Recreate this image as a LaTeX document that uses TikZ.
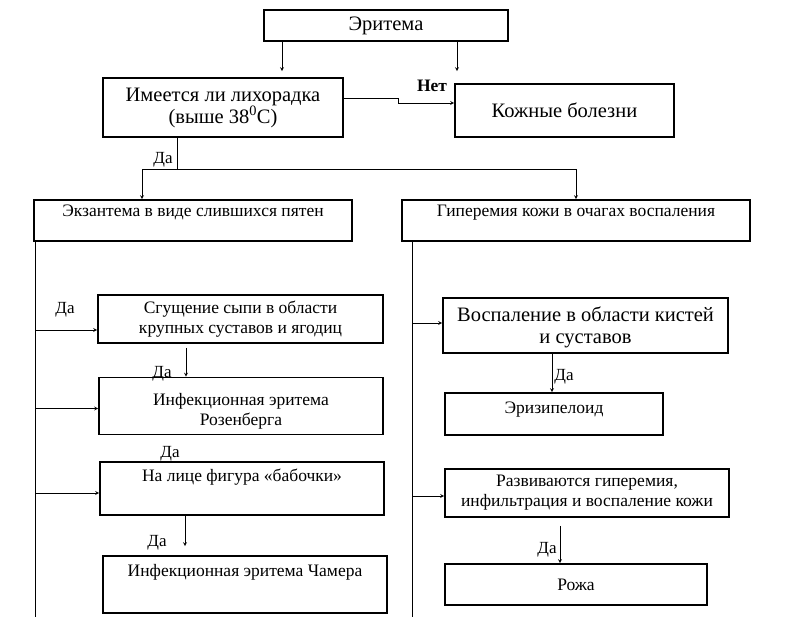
\documentclass[tikz,border=0pt]{standalone}
\usepackage{fontspec}
\setmainfont{Liberation Serif}
\usetikzlibrary{arrows.meta}

\tikzset{
  box/.style={draw,line width=1.6pt,inner sep=0pt,align=center,font=\fontsize{17.5}{20}\selectfont},
  bigbox/.style={box,font=\fontsize{20.5}{22}\selectfont},
  yes/.style={inner sep=0pt,font=\fontsize{17}{19}\selectfont}
}

\begin{document}
\begin{tikzpicture}[>=stealth,x=1pt,y=-1pt,line width=0.8pt]
\useasboundingbox (0,0) rectangle (809,617);
% boxes
\node[bigbox,minimum width=244pt,minimum height=31pt] (eritema) at (386,25.5) {Эритема};
\node[bigbox,minimum width=240pt,minimum height=59pt] (fever) at (223,107.5) {Имеется ли лихорадка\\(выше 38\textsuperscript{0}С)};
\node[bigbox,minimum width=219pt,minimum height=53pt] (skin) at (564.5,110.5) {Кожные болезни};
\node[box,minimum width=318pt,minimum height=41pt,text depth=19pt] (exan) at (193,220.5) {Экзантема в виде слившихся пятен};
\node[box,minimum width=348pt,minimum height=41pt,text depth=19pt] (hyper) at (576,220.5) {Гиперемия кожи в очагах воспаления};
\node[box,minimum width=285pt,minimum height=48pt] (thick) at (240.5,319) {Сгущение сыпи в области\\крупных суставов и ягодиц};
\node[box,minimum width=284pt,minimum height=57pt,text height=42pt] (rosen) at (241,406) {Инфекционная эритема\\Розенберга};
\node[box,minimum width=284pt,minimum height=53pt,text depth=27pt] (butter) at (242,488.5) {На лице фигура «бабочки»};
\node[box,minimum width=284pt,minimum height=57pt,text depth=29pt] (chamer) at (245,584.5) {Инфекционная эритема Чамера};
\node[bigbox,minimum width=285pt,minimum height=55pt,text depth=0pt] (hands) at (585.5,325.5) {Воспаление в области кистей\\и суставов};
\node[box,minimum width=218pt,minimum height=42pt,text depth=12pt] (erysip) at (554,414) {Эризипелоид};
\node[box,minimum width=284pt,minimum height=48pt] (develop) at (587,493) {Развиваются гиперемия,\\инфильтрация и воспаление кожи};
\node[box,minimum width=262pt,minimum height=41pt] (rozha) at (576,584.5) {Рожа};
\draw[white,line width=2pt] ([xshift=-60pt]rozha.north) -- (rozha.north);
\draw ([xshift=-60pt]rozha.north) -- (rozha.north);

% labels
\node[yes,font=\fontsize{17.5}{19}\selectfont\bfseries] (no) at (432,86) {Нет};
\node[yes] (yes0) at (163,160) {Да};
\node[yes] (yes1) at (65,310) {Да};
\node[yes] (yes2) at (162,374) {Да};
\node[yes] (yes3) at (170,454) {Да};
\node[yes] (yes4) at (157,543) {Да};
\node[yes] (yes5) at (564,377) {Да};
\node[yes] (yes6) at (547,550) {Да};

% connectors
\path ([xshift=-104pt]eritema.south) coordinate (e1)
      ([xshift=71pt]eritema.south) coordinate (e2);
\draw[->,shorten >=6pt] (e1) -- (e1 |- fever.north);
\draw[->,shorten >=12pt] (e2) -- (e2 |- skin.north);
\draw[->] ([yshift=9.5pt]fever.east) -- ++(55,0) |- ([yshift=7.5pt]skin.west);

\coordinate (split) at (177,169);
\draw (split |- fever.south) -- (split);
\draw[->] (split) -| ([xshift=-51pt]exan.north);
\draw[->] (split) -| (hyper.north);

% left trunk
\coordinate (lend) at (35,617);
\draw (lend |- exan.south) -- (lend);
\path ([yshift=-11pt]thick.west) coordinate (inA)
      ([yshift=-2.5pt]rosen.west) coordinate (inB)
      ([yshift=-4.5pt]butter.west) coordinate (inC);
\foreach \p in {inA,inB,inC}
  \draw[->] (\p -| lend) -- (\p);
\path ([xshift=-54.5pt,yshift=-4pt]thick.south) coordinate (d1)
      ([xshift=-57pt]butter.south) coordinate (d2);
\draw[->] (d1) -- (d1 |- rosen.north);
\draw[->,shorten >=9pt] (d2) -- (d2 |- chamer.north);

% right trunk
\coordinate (rend) at (412,617);
\draw (rend |- hyper.south) -- (rend);
\path ([yshift=2.5pt]hands.west) coordinate (inD)
      ([yshift=-3pt]develop.west) coordinate (inE);
\foreach \p in {inD,inE}
  \draw[->] (\p -| rend) -- (\p);
\path ([xshift=-33.5pt]hands.south) coordinate (d3)
      ([xshift=-27pt,yshift=-8pt]develop.south) coordinate (d4);
\draw[->] (d3) -- (d3 |- erysip.north);
\draw[->] (d4) -- (d4 |- rozha.north);
\end{tikzpicture}
\end{document}
